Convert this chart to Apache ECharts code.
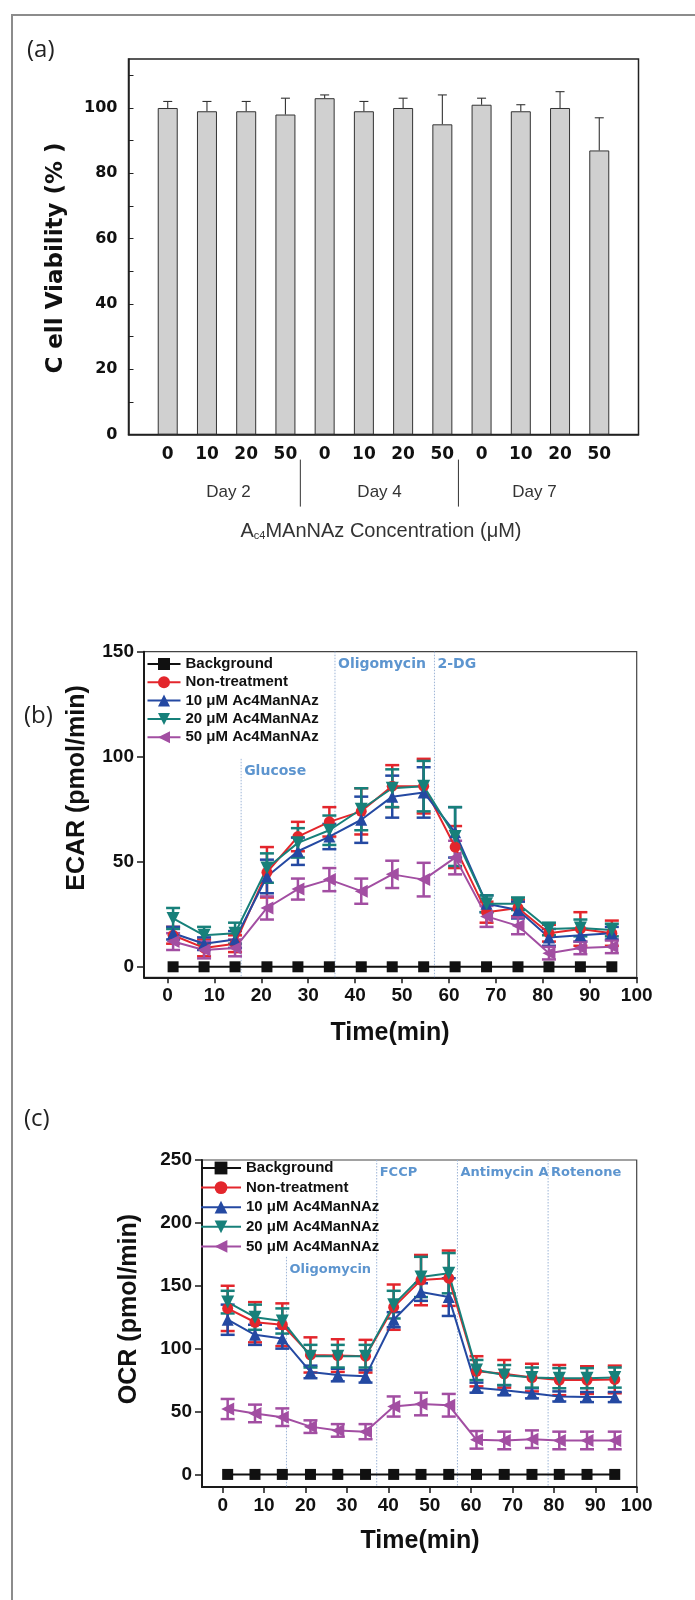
<!DOCTYPE html>
<html>
<head>
<meta charset="utf-8">
<script src="https://cdn.jsdelivr.net/npm/echarts@6/dist/echarts.min.js"></script>
<style>
html, body { margin: 0; padding: 0; background: #ffffff; }
#main { width: 695px; height: 1600px; }
</style>
</head>
<body>
<div id="main"></div>
<script>
// ---------- Panel (a): cell viability ----------
const concLabels = ['0', '10', '20', '50', '0', '10', '20', '50', '0', '10', '20', '50'];
const viability = [100, 99, 99, 98, 103, 99, 100, 95, 101, 99, 100, 87];
const viabilityErr = [2, 3, 3, 5, 1, 3, 3, 9, 2, 2, 5, 10];
const dayLabels = ['Day 2', 'Day 4', 'Day 7'];
const dayCenters = [2.55, 6.4, 10.35];
const dayBreaks = [4.38, 8.41];
const viabilityTicks = [0, 20, 40, 60, 80, 100];

// ---------- Panels (b) and (c): shared time base ----------
const timeMin = [1.2, 7.8, 14.4, 21.2, 27.8, 34.5, 41.3, 47.9, 54.6, 61.3, 68.0, 74.7, 81.3, 88.0, 94.7];
const groupNames = ['Background', 'Non-treatment', '10 μM Ac4ManNAz', '20 μM Ac4ManNAz', '50 μM Ac4ManNAz'];
const timeTicks = [0, 10, 20, 30, 40, 50, 60, 70, 80, 90, 100];

// ECAR (pmol/min)
const ecarBackground = [0, 0, 0, 0, 0, 0, 0, 0, 0, 0, 0, 0, 0, 0, 0];
const ecarNonTreat = [15, 9, 11, 45, 62, 69, 74, 86, 86, 57, 26, 28, 16, 18, 16];
const ecarNonTreatErr = [4, 4, 4, 12, 7, 7, 11, 10, 13, 10, 5, 4, 4, 8, 6];
const ecar10 = [16, 11, 13, 43, 55, 62, 70, 81, 83, 64, 30, 27, 14, 15, 16];
const ecar10Err = [3, 3, 4, 8, 6.5, 6, 11, 10, 12, 12, 4, 4, 4, 3, 3];
const ecar20 = [23, 15, 16, 47, 59, 65, 75, 85, 86, 62, 30, 30, 18, 18.5, 17.5];
const ecar20Err = [5, 4, 5, 7, 7, 7, 10, 9, 12, 14, 4, 3, 3, 4, 3];
const ecar50 = [12, 8, 9, 28, 37, 41.5, 36, 44, 41.5, 52, 24, 19.5, 6.5, 9, 9.5];
const ecar50Err = [4, 4, 4, 5.5, 5, 5.5, 6, 6.5, 8, 8, 5, 4, 3, 3, 3];
const ecarTicks = [0, 50, 100, 150];
const ecarInjectTime = [15.7, 35.7, 56.9];
const ecarInjectTop = [99, 150, 150];
const ecarInjectLabels = ['Glucose', 'Oligomycin', '2-DG'];

// OCR (pmol/min)
const ocrBackground = [0, 0, 0, 0, 0, 0, 0, 0, 0, 0, 0, 0, 0, 0, 0];
const ocrNonTreat = [132, 121, 119, 95, 94.5, 94, 133, 154.5, 156, 82, 80, 77, 75, 75, 75.5];
const ocrNonTreatErr = [18, 16, 17, 14, 13, 13, 18, 20, 22, 12, 11, 11, 12, 11, 11];
const ocr10 = [123, 111, 108, 81.5, 79, 78, 123, 145, 141, 69, 67, 64.5, 62, 61.5, 61.5];
const ocr10Err = [12, 8, 8, 5, 5, 5, 6, 7, 15, 4, 4, 4, 4, 4, 4];
const ocr20 = [137, 125, 122, 94, 94, 94, 135, 157, 160, 83, 79, 77, 76.5, 76.5, 77];
const ocr20Err = [9, 10, 10, 9, 9, 9, 11, 16, 16, 8, 8, 8, 8, 8, 8];
const ocr50 = [52, 48.5, 45.5, 38, 35, 34, 54, 56, 55, 27.5, 27, 28, 27, 27, 27];
const ocr50Err = [8, 7, 7, 5, 5, 6, 8, 9, 9, 7, 7, 7, 7, 7, 7];
const ocrTicks = [0, 50, 100, 150, 200, 250];
const ocrInjectTime = [15.4, 37.2, 56.7, 78.6];
const ocrInjectTop = [173, 250, 250, 250];
const ocrInjectLabels = ['Oligomycin', 'FCCP', 'Antimycin A', 'Rotenone'];

// ---------- styling ----------
const palette = ['#111111', '#e3262c', '#2449a2', '#17807a', '#a24ea2'];
const markers = ['rect', 'circle', 'triangle', 'triangle', 'triangle'];
const markerRotate = [0, 0, 0, 180, 90];
const markerSize = [11, 11, 12, 13, 13];
const boldSans = 'Liberation Sans, Arial, sans-serif';
const injectColor = '#5d95cf';
const panelFont = '24px "Open Sans", "Liberation Sans", sans-serif';

const chart = echarts.init(document.getElementById('main'), null, { renderer: 'canvas' });

// vertical error bars (+/-), or upward only
function errorBars(color, capW, lw, upOnly) {
  return function (params, api) {
    const x = api.value(0), y = api.value(1), e = api.value(2);
    if (!e) return null;
    const hi = api.coord([x, y + e]);
    const lo = api.coord([x, upOnly ? y : y - e]);
    const h = capW / 2;
    const st = { stroke: color, lineWidth: lw };
    const kids = [
      { type: 'line', shape: { x1: hi[0], y1: hi[1], x2: lo[0], y2: lo[1] }, style: st },
      { type: 'line', shape: { x1: hi[0] - h, y1: hi[1], x2: hi[0] + h, y2: hi[1] }, style: st }
    ];
    if (!upOnly) kids.push({ type: 'line', shape: { x1: lo[0] - h, y1: lo[1], x2: lo[0] + h, y2: lo[1] }, style: st });
    return { type: 'group', children: kids };
  };
}

// dotted injection markers with their captions
function injections(labels, yMin, fontSize) {
  return function (params, api) {
    const x = api.value(0), top = api.value(1);
    const p1 = api.coord([x, top]);
    const p0 = api.coord([x, yMin]);
    return {
      type: 'group',
      children: [
        { type: 'line', shape: { x1: p1[0], y1: p1[1], x2: p0[0], y2: p0[1] },
          style: { stroke: '#9db4d6', lineWidth: 1, lineDash: [1.5, 1.5] } },
        { type: 'text', x: p1[0] + 3, y: p1[1] + 6,
          style: { text: labels[params.dataIndex], fill: injectColor,
                   font: 'bold ' + fontSize + 'px "DejaVu Sans", Verdana, sans-serif',
                   textAlign: 'left', textVerticalAlign: 'top' } }
      ]
    };
  };
}

function timeAxis(gridIndex) {
  return {
    type: 'value', gridIndex: gridIndex, min: -5, max: 100,
    axisLine: { show: true, onZero: false, lineStyle: { color: '#1a1a1a', width: 2 } },
    axisTick: { show: true, customValues: timeTicks, length: 6, lineStyle: { color: '#1a1a1a', width: 1.5 } },
    axisLabel: { customValues: timeTicks, margin: 9, fontFamily: boldSans, fontWeight: 'bold', fontSize: 19, color: '#111' },
    splitLine: { show: false }
  };
}

function rateAxis(gridIndex, min, max, ticks) {
  return {
    type: 'value', gridIndex: gridIndex, min: min, max: max,
    axisLine: { show: true, onZero: false, lineStyle: { color: '#1a1a1a', width: 2 } },
    axisTick: { show: true, customValues: ticks, length: 7, lineStyle: { color: '#1a1a1a', width: 1.5 } },
    axisLabel: { customValues: ticks, margin: 10, fontFamily: boldSans, fontWeight: 'bold', fontSize: 19, color: '#111' },
    splitLine: { show: false }
  };
}

function rateSeries(axisIndex, values, errors, tag) {
  const out = [];
  values.forEach(function (vals, k) {
    if (k > 0) {
      out.push({
        type: 'custom', name: tag + ' error ' + k, xAxisIndex: axisIndex, yAxisIndex: axisIndex,
        renderItem: errorBars(palette[k], 14, 2.5, false),
        data: vals.map(function (v, i) { return [timeMin[i], v, errors[k][i]]; }),
        encode: { x: 0, y: 1 }, z: 3, silent: true
      });
    }
  });
  values.forEach(function (vals, k) {
    out.push({
      type: 'line', name: groupNames[k], xAxisIndex: axisIndex, yAxisIndex: axisIndex,
      data: vals.map(function (v, i) { return [timeMin[i], v]; }),
      symbol: markers[k], symbolRotate: markerRotate[k], symbolSize: markerSize[k],
      lineStyle: { color: palette[k], width: 2 }, itemStyle: { color: palette[k] },
      z: 4, silent: true, emphasis: { disabled: true }
    });
  });
  return out;
}

const legendText = { fontFamily: boldSans, fontWeight: 'bold', fontSize: 15, color: '#111' };

const option = {
  animation: false,
  backgroundColor: '#ffffff',
  grid: [
    { left: 128.5, top: 59, width: 510, height: 375.6, show: true, borderColor: '#222', borderWidth: 1.5, backgroundColor: 'transparent' },
    { left: 144, top: 651.7, width: 492.7, height: 325.6, show: true, borderColor: '#444', borderWidth: 1.2, backgroundColor: 'transparent' },
    { left: 202, top: 1160, width: 434.7, height: 327, show: true, borderColor: '#444', borderWidth: 1.2, backgroundColor: 'transparent' }
  ],
  xAxis: [
    {
      type: 'value', gridIndex: 0, min: 0, max: 13, interval: 1,
      axisLine: { show: true, lineStyle: { color: '#222', width: 1.5 } },
      axisTick: { show: false },
      axisLabel: {
        margin: 11, fontFamily: '"DejaVu Sans", Verdana, sans-serif', fontWeight: 'bold', fontSize: 17, color: '#111',
        formatter: function (v) { return (v >= 1 && v <= 12) ? concLabels[v - 1] : ''; }
      },
      splitLine: { show: false }
    },
    timeAxis(1),
    timeAxis(2)
  ],
  yAxis: [
    {
      type: 'value', gridIndex: 0, min: 0, max: 115,
      axisLine: { show: true, lineStyle: { color: '#222', width: 1.5 } },
      axisTick: { show: true, inside: true, length: 5, customValues: [0, 10, 20, 30, 40, 50, 60, 70, 80, 90, 100, 110], lineStyle: { color: '#222', width: 1 } },
      axisLabel: { customValues: viabilityTicks, margin: 11, fontFamily: '"DejaVu Sans", Verdana, sans-serif', fontWeight: 'bold', fontSize: 16, color: '#111' },
      splitLine: { show: false }
    },
    rateAxis(1, -5, 150, ecarTicks),
    rateAxis(2, -10, 250, ocrTicks)
  ],
  legend: [
    {
      data: groupNames, orient: 'vertical', left: 146.5, top: 656.5,
      itemWidth: 33, itemHeight: 15, itemGap: 3.3, padding: 0,
      textStyle: legendText, selectedMode: false
    },
    {
      data: groupNames, orient: 'vertical', left: 200, top: 1160.5,
      itemWidth: 40, itemHeight: 16, itemGap: 4.6, padding: 0,
      textStyle: legendText, selectedMode: false
    }
  ],
  series: [
    {
      type: 'bar', name: 'Cell viability', xAxisIndex: 0, yAxisIndex: 0,
      data: viability.map(function (v, i) { return [i + 1, v]; }),
      barWidth: 20,
      itemStyle: { color: '#d0d0d0', borderColor: '#333', borderWidth: 1 },
      silent: true, z: 2
    },
    {
      type: 'custom', name: 'Cell viability error', xAxisIndex: 0, yAxisIndex: 0,
      renderItem: errorBars('#333', 9, 1.1, true),
      data: viability.map(function (v, i) { return [i + 1, v, viabilityErr[i]]; }),
      encode: { x: 0, y: 1 }, z: 3, silent: true
    },
    {
      // day group captions and separators beneath the concentration labels
      type: 'custom', name: 'Day groups', xAxisIndex: 0, yAxisIndex: 0, clip: false, silent: true,
      renderItem: function (params, api) {
        const kids = [];
        dayBreaks.forEach(function (b) {
          const p = api.coord([b, 0]);
          kids.push({ type: 'line', shape: { x1: p[0], y1: p[1] + 25, x2: p[0], y2: p[1] + 72 },
            style: { stroke: '#333', lineWidth: 1 } });
        });
        dayLabels.forEach(function (d, i) {
          const p = api.coord([dayCenters[i], 0]);
          kids.push({ type: 'text', x: p[0], y: p[1] + 57.5,
            style: { text: d, fill: '#333', font: '17px "Liberation Sans", Arial, sans-serif', textAlign: 'center', textVerticalAlign: 'middle' } });
        });
        return params.dataIndex === 0 ? { type: 'group', children: kids } : null;
      },
      data: [[0, 0]], encode: { x: 0, y: 1 }
    },
    {
      type: 'custom', name: 'ECAR injections', xAxisIndex: 1, yAxisIndex: 1, silent: true, z: 1,
      renderItem: injections(ecarInjectLabels, -5, 14),
      data: ecarInjectTime.map(function (t, i) { return [t, ecarInjectTop[i]]; }),
      encode: { x: 0, y: 1 }
    },
    {
      type: 'custom', name: 'OCR injections', xAxisIndex: 2, yAxisIndex: 2, silent: true, z: 1,
      renderItem: injections(ocrInjectLabels, -10, 13),
      data: ocrInjectTime.map(function (t, i) { return [t, ocrInjectTop[i]]; }),
      encode: { x: 0, y: 1 }
    }
  ].concat(
    rateSeries(1, [ecarBackground, ecarNonTreat, ecar10, ecar20, ecar50],
      [ecarBackground, ecarNonTreatErr, ecar10Err, ecar20Err, ecar50Err], 'ECAR'),
    rateSeries(2, [ocrBackground, ocrNonTreat, ocr10, ocr20, ocr50],
      [ocrBackground, ocrNonTreatErr, ocr10Err, ocr20Err, ocr50Err], 'OCR')
  ),
  graphic: [
    { type: 'rect', shape: { x: 12, y: 15, width: 720, height: 1620 }, style: { fill: 'none', stroke: '#8c8c8c', lineWidth: 2 }, silent: true },
    { type: 'text', x: 27, y: 50, style: { text: '(a)', fill: '#222', font: panelFont, textVerticalAlign: 'middle' } },
    { type: 'text', x: 24, y: 716, style: { text: '(b)', fill: '#222', font: panelFont, textVerticalAlign: 'middle' } },
    { type: 'text', x: 24, y: 1119, style: { text: '(c)', fill: '#222', font: panelFont, textVerticalAlign: 'middle' } },
    { type: 'text', x: 56, y: 258, rotation: Math.PI / 2,
      style: { text: 'C ell Viability (% )', fill: '#111', font: 'bold 23px "DejaVu Sans", Verdana, sans-serif', textAlign: 'center', textVerticalAlign: 'middle' } },
    { type: 'text', x: 381, y: 531,
      style: {
        text: '{a|A}{s|c4}{a|MAnNAz Concentration (μM)}',
        textAlign: 'center', textVerticalAlign: 'middle',
        rich: {
          a: { fontFamily: '"Liberation Sans", Arial, sans-serif', fontSize: 20, fill: '#333' },
          s: { fontFamily: '"Liberation Sans", Arial, sans-serif', fontSize: 11, fill: '#333', padding: [10, 0, 0, 0] }
        }
      } },
    { type: 'text', x: 77, y: 788, rotation: Math.PI / 2,
      style: { text: 'ECAR (pmol/min)', fill: '#111', font: 'bold 25px "Liberation Sans", Arial, sans-serif', textAlign: 'center', textVerticalAlign: 'middle' } },
    { type: 'text', x: 390, y: 1033,
      style: { text: 'Time(min)', fill: '#111', font: 'bold 25px "Liberation Sans", Arial, sans-serif', textAlign: 'center', textVerticalAlign: 'middle' } },
    { type: 'text', x: 129, y: 1309, rotation: Math.PI / 2,
      style: { text: 'OCR (pmol/min)', fill: '#111', font: 'bold 25px "Liberation Sans", Arial, sans-serif', textAlign: 'center', textVerticalAlign: 'middle' } },
    { type: 'text', x: 420, y: 1541.5,
      style: { text: 'Time(min)', fill: '#111', font: 'bold 25px "Liberation Sans", Arial, sans-serif', textAlign: 'center', textVerticalAlign: 'middle' } }
  ]
};

chart.setOption(option);
</script>
</body>
</html>
